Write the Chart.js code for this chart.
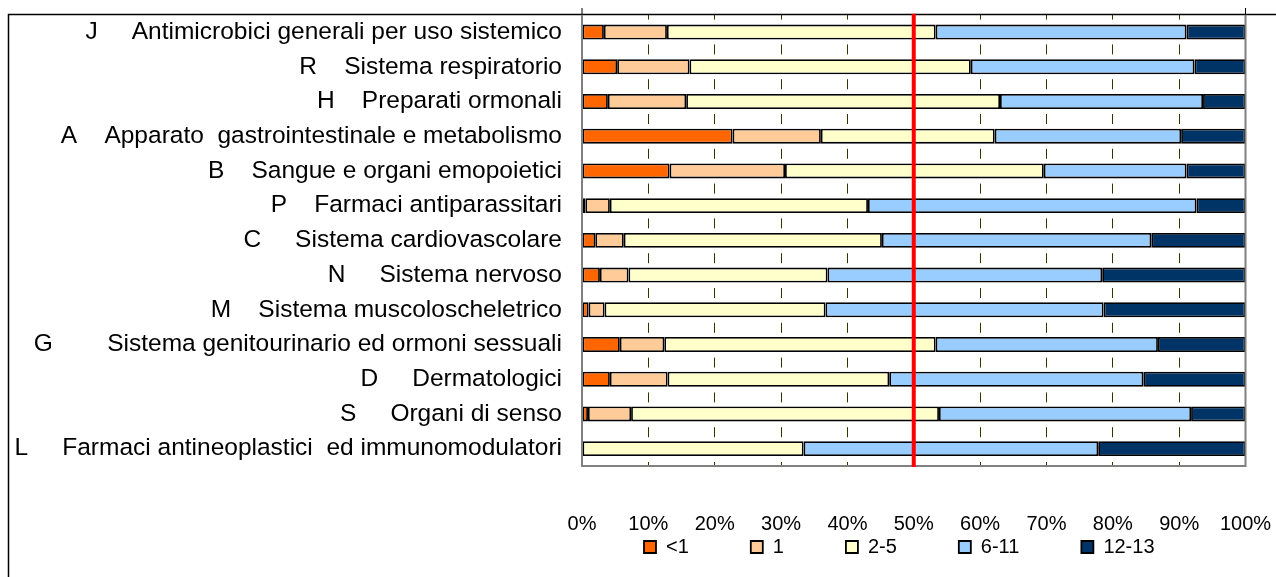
<!DOCTYPE html>
<html><head><meta charset="utf-8">
<script src="https://cdn.jsdelivr.net/npm/chart.js@4"></script>
<style>html,body{margin:0;padding:0;background:#fff;overflow:hidden}</style>
</head><body>
<canvas id="c" width="1276" height="577"></canvas>
<script>
const categories = [
  'J     Antimicrobici generali per uso sistemico',
  'R    Sistema respiratorio',
  'H    Preparati ormonali',
  'A    Apparato  gastrointestinale e metabolismo',
  'B    Sangue e organi emopoietici',
  'P    Farmaci antiparassitari',
  'C     Sistema cardiovascolare',
  'N     Sistema nervoso',
  'M    Sistema muscoloscheletrico',
  'G        Sistema genitourinario ed ormoni sessuali',
  'D     Dermatologici',
  'S     Organi di senso',
  'L     Farmaci antineoplastici  ed immunomodulatori'
];
const seriesNames = ['<1', '1', '2-5', '6-11', '12-13'];
const valuesLt1     = [3.3, 5.3, 3.9, 22.7, 13.2, 0.5, 2.0, 2.7, 1.0, 5.7, 4.2, 0.9, 0];
const valuesOne     = [9.5, 10.9, 11.8, 13.3, 17.4, 3.7, 4.3, 4.3, 2.4, 6.7, 8.7, 6.5, 0];
const values2to5    = [40.5, 42.4, 47.3, 26.2, 39.0, 38.9, 38.9, 30.0, 33.3, 40.9, 33.4, 46.4, 33.4];
const values6to11   = [37.8, 33.7, 30.6, 28.1, 21.5, 49.5, 40.6, 41.4, 41.9, 33.5, 38.3, 38.0, 44.4];
const values12to13  = [8.9, 7.7, 6.4, 9.7, 8.9, 7.4, 14.2, 21.6, 21.4, 13.2, 15.4, 8.2, 22.2];
const xTickLabels = ['0%', '10%', '20%', '30%', '40%', '50%', '60%', '70%', '80%', '90%', '100%'];
const thresholdValue = 50;

const seriesColors = ['#FF6600', '#FFCC99', '#FFFFCC', '#99CCFF', '#003366'];
const seriesData = [valuesLt1, valuesOne, values2to5, values6to11, values12to13];

const decor = {
  id: 'decor',
  beforeDraw(chart) {
    const ctx = chart.ctx;
    ctx.save();
    ctx.strokeStyle = '#000';
    ctx.lineWidth = 1.5;
    ctx.beginPath();
    ctx.moveTo(8.5, 577);
    ctx.lineTo(8.5, 14.5);
    ctx.lineTo(1276, 14.5);
    ctx.stroke();
    ctx.restore();
  },
  afterDatasetsDraw(chart) {
    const ctx = chart.ctx;
    const a = chart.chartArea;
    ctx.save();
    ctx.strokeStyle = '#808080';
    ctx.lineWidth = 2;
    ctx.beginPath();
    ctx.moveTo(a.left, a.top);
    ctx.lineTo(a.left, a.bottom);
    ctx.lineTo(a.right, a.bottom);
    ctx.lineTo(a.right, a.top);
    ctx.stroke();
    ctx.strokeStyle = '#000';
    ctx.lineWidth = 1;
    ctx.beginPath();
    ctx.moveTo(a.left, 8); ctx.lineTo(a.left, a.top);
    ctx.moveTo(a.right, 8); ctx.lineTo(a.right, a.top);
    ctx.stroke();
    const x = chart.scales.x.getPixelForValue(thresholdValue);
    ctx.strokeStyle = '#FF0000';
    ctx.lineWidth = 4;
    ctx.beginPath();
    ctx.moveTo(x, a.top - 1);
    ctx.lineTo(x, a.bottom + 1);
    ctx.stroke();
    ctx.restore();
  }
};

new Chart(document.getElementById('c'), {
  type: 'bar',
  data: {
    labels: categories,
    datasets: seriesNames.map((name, i) => ({
      label: name,
      data: seriesData[i],
      backgroundColor: seriesColors[i],
      borderColor: '#000',
      borderWidth: 1.8,
      borderSkipped: false,
      categoryPercentage: 1,
      barPercentage: 0.43
    }))
  },
  options: {
    indexAxis: 'y',
    responsive: false,
    animation: false,
    devicePixelRatio: 1,
    layout: { padding: { left: 0, right: 30.5, top: 13.6, bottom: 10 } },
    scales: {
      x: {
        stacked: true,
        min: 0, max: 100,
        ticks: {
          stepSize: 10,
          mirror: true,
          padding: -70,
          maxRotation: 0,
          color: '#000',
          font: { family: 'Liberation Sans, Arial, sans-serif', size: 20 },
          callback: (v, i) => xTickLabels[i]
        },
        grid: { color: '#333300', lineWidth: 1, drawTicks: false },
        border: { display: false, dash: [10, 24.8], dashOffset: 5.1 },
        afterFit(scale) { scale.height = 9; }
      },
      y: {
        stacked: true,
        ticks: {
          padding: 0,
          color: '#000',
          autoSkip: false,
          font: { family: 'Liberation Sans, Arial, sans-serif', size: 24.5 }
        },
        grid: { display: false, drawTicks: true, tickLength: 20, tickColor: 'rgba(0,0,0,0)' },
        border: { display: false },
        afterFit(scale) { scale.width = 582; }
      }
    },
    plugins: {
      tooltip: { enabled: false },
      legend: {
        position: 'bottom',
        align: 'start',
        fullSize: false,
        labels: {
          boxWidth: 12,
          boxHeight: 12,
          padding: 62,
          color: '#000',
          font: { family: 'Liberation Sans, Arial, sans-serif', size: 20 }
        }
      }
    }
  },
  plugins: [decor]
});
</script>
</body></html>
